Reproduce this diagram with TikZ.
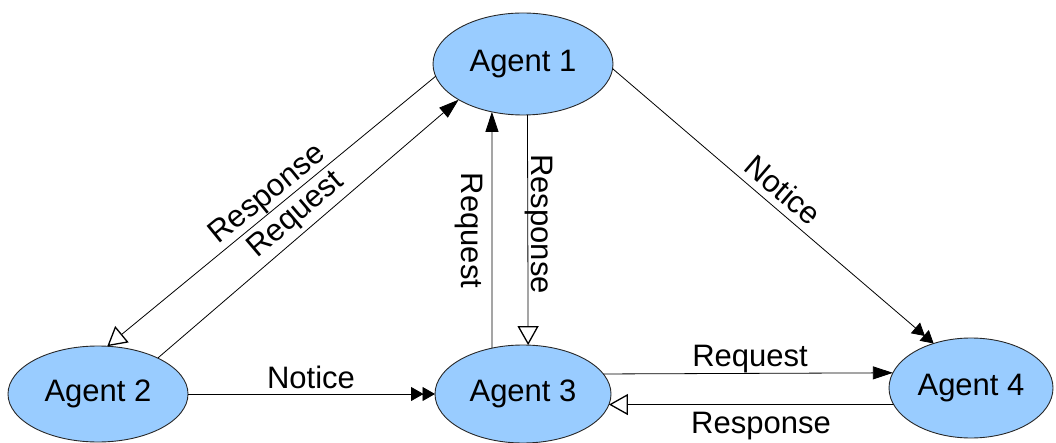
\documentclass[tikz,border=0pt]{standalone}
\usepackage{fontspec}
\setmainfont{Liberation Sans}
\usetikzlibrary{shapes.geometric,arrows.meta}

\definecolor{agentfill}{RGB}{153,204,255}
\definecolor{agentline}{RGB}{40,40,40}

\tikzset{
  agent/.style={ellipse, draw=agentline, line width=0.9pt, fill=agentfill,
    inner sep=0pt, outer sep=0pt, font=\fontsize{31}{36}\selectfont},
  lbl/.style={inner sep=0pt, font=\fontsize{31}{36}\selectfont},
  link/.style={draw=black, line width=0.8pt},
  filledtip/.style={link, -{Triangle[length=20pt,width=13pt]}},
  opentip/.style={link, -{Triangle[open,length=19pt,width=21pt,line width=1.3pt,fill=white]}},
  doubletip/.style={link, -{Triangle[length=12.5pt,width=14pt,sep=-1pt]Triangle[length=12.5pt,width=14pt]}}
}

\begin{document}
\begin{tikzpicture}[x=1pt,y=-1pt]
  \useasboundingbox (0,0) rectangle (1056,443);

  % agents
  \node[agent, minimum width=180pt, minimum height=102pt] (a1) at (523,64)  {Agent 1};
  \node[agent, minimum width=180pt, minimum height=96pt]  (a2) at (98,394)  {Agent 2};
  \node[agent, minimum width=176pt, minimum height=98pt]  (a3) at (523,394) {Agent 3};
  \node[agent, minimum width=164pt, minimum height=100pt] (a4) at (971,388) {Agent 4};

  % Agent 1 <-> Agent 2
  \draw[opentip]   (a1.188.6) -- (a2.79.6);
  \draw[filledtip] (a2.31.7)  -- (a1.209.6);
  \node[lbl, rotate=39.1] (l12resp) at (268,195)   {Response};
  \node[lbl, rotate=40.5] (l21req)  at (296.5,215.5) {Request};

  % Agent 1 <-> Agent 3
  \draw[filledtip] (a3.124.05) -- (a1.237.08);
  \draw[opentip]   (a1.275.6)  -- (a3.84.16);
  \node[lbl, rotate=-90] (l31req)  at (469,230.5) {Request};
  \node[lbl, rotate=-90] (l13resp) at (539,224)   {Response};

  % Agent 1 -> Agent 4
  \draw[doubletip] (a1.357.5) -- (a4.130.2);
  \node[lbl, rotate=-40.7] (l14note) at (783,190) {Notice};

  % Agent 2 -> Agent 3
  \draw[doubletip] (a2.east) -- (a3.west);
  \node[lbl, anchor=base] (l23note) at (311,388) {Notice};

  % Agent 3 <-> Agent 4
  \draw[filledtip] (a3.14.8)   -- (a4.169.14);
  \draw[opentip]   (a4.192.43) -- (a3.-7.31);
  \node[lbl, anchor=base] (l34req)  at (750,366) {Request};
  \node[lbl, anchor=base] (l43resp) at (761,433) {Response};
\end{tikzpicture}
\end{document}
